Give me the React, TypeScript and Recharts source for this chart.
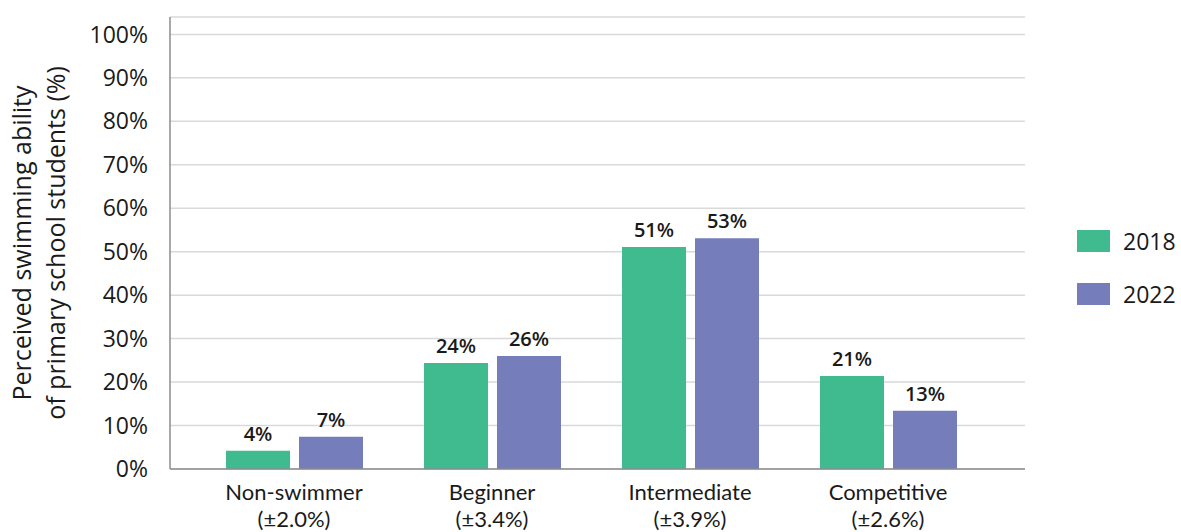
import React from 'react';
import { BarChart, Bar, XAxis, YAxis, CartesianGrid, LabelList } from 'recharts';

// Perceived swimming ability, by survey year
const CATEGORIES = ['Non-swimmer', 'Beginner', 'Intermediate', 'Competitive'];
const MARGINS = ['(±2.0%)', '(±3.4%)', '(±3.9%)', '(±2.6%)'];
const VALUES_2018 = [4.2, 24.4, 51.1, 21.4];
const VALUES_2022 = [7.4, 26.0, 53.1, 13.4];
const SERIES = ['2018', '2022'];
const Y_TICKS = [0, 10, 20, 30, 40, 50, 60, 70, 80, 90, 100];

const COLORS = {
  y2018: '#40BA8F',
  y2022: '#757EBB',
  grid: '#D9D9D9',
  axis: '#8C8C8C',
  text: '#1A1A1A'
};
const SERIES_COLORS = [COLORS.y2018, COLORS.y2022];

const FONT = '"Open Sans", Lato, sans-serif';
// tighter line metrics for the two-line category labels
const TICK_FONT = 'Lato, "Open Sans", sans-serif';

const data = CATEGORIES.map((name, i) => ({
  name,
  y2018: VALUES_2018[i],
  y2022: VALUES_2022[i]
}));

const CategoryTick = ({ x, y, payload, index }: any) => (
  <g transform={`translate(${x},${y})`}>
    <text textAnchor="middle" fill={COLORS.text} fontSize={22} fontFamily={TICK_FONT}>
      <tspan x={0} y={23}>{payload.value}</tspan>
      <tspan x={0} y={50}>{MARGINS[index]}</tspan>
    </text>
  </g>
);

const YTitle = ({ viewBox }: any) => {
  const cy = viewBox.y + viewBox.height / 2;
  return (
    <text
      transform={`translate(0, ${cy}) rotate(-90)`}
      textAnchor="middle"
      fill={COLORS.text}
      fontSize={25}
      fontFamily={FONT}
    >
      <tspan x={0} y={31}>Perceived swimming ability</tspan>
      <tspan x={0} y={65}>of primary school students (%)</tspan>
    </text>
  );
};

// legend sits outside the plot on the right
const SideLegend = () => (
  <div style={{ position: 'absolute', left: 1077, top: 224, fontFamily: FONT, fontSize: 23, color: COLORS.text }}>
    {SERIES.map((s, i) => (
      <div key={s} style={{ display: 'flex', alignItems: 'center', height: 34, marginBottom: 19 }}>
        <span style={{ width: 33, height: 22, background: SERIES_COLORS[i], display: 'inline-block', marginRight: 13 }} />
        <span>{s}</span>
      </div>
    ))}
  </div>
);

const labelStyle = { fill: COLORS.text, fontSize: 20, fontWeight: 600, fontFamily: FONT };

export default function App() {
  return (
    <div style={{ position: 'absolute', left: 0, top: 0, width: 1181, height: 532, background: '#fff' }}>
      <BarChart
        width={1181}
        height={532}
        data={data}
        margin={{ top: 17, right: 156, left: 0, bottom: 0 }}
        barSize={64}
        barGap={9}
      >
        <CartesianGrid vertical={false} stroke={COLORS.grid} strokeWidth={1.5} />
        <XAxis
          dataKey="name"
          height={63}
          axisLine={{ stroke: COLORS.axis, strokeWidth: 1.5 }}
          tickLine={false}
          tick={<CategoryTick />}
          interval={0}
          padding={{ left: 25, right: 38 }}
        />
        <YAxis
          width={170}
          domain={[0, 104]}
          ticks={Y_TICKS}
          interval={0}
          tickFormatter={(v) => `${v}%`}
          axisLine={{ stroke: COLORS.axis, strokeWidth: 1.5 }}
          tickLine={false}
          tickSize={0}
          tickMargin={22}
          tick={{ fill: COLORS.text, fontSize: 23, fontFamily: FONT }}
          label={<YTitle />}
        />
        <Bar dataKey="y2018" name="2018" fill={COLORS.y2018} isAnimationActive={false}>
          <LabelList
            dataKey="y2018"
            position="top"
            offset={10}
            formatter={(v: any) => `${Math.round(v)}%`}
            style={labelStyle}
          />
        </Bar>
        <Bar dataKey="y2022" name="2022" fill={COLORS.y2022} isAnimationActive={false}>
          <LabelList
            dataKey="y2022"
            position="top"
            offset={10}
            formatter={(v: any) => `${Math.round(v)}%`}
            style={labelStyle}
          />
        </Bar>
      </BarChart>
      <SideLegend />
    </div>
  );
}
